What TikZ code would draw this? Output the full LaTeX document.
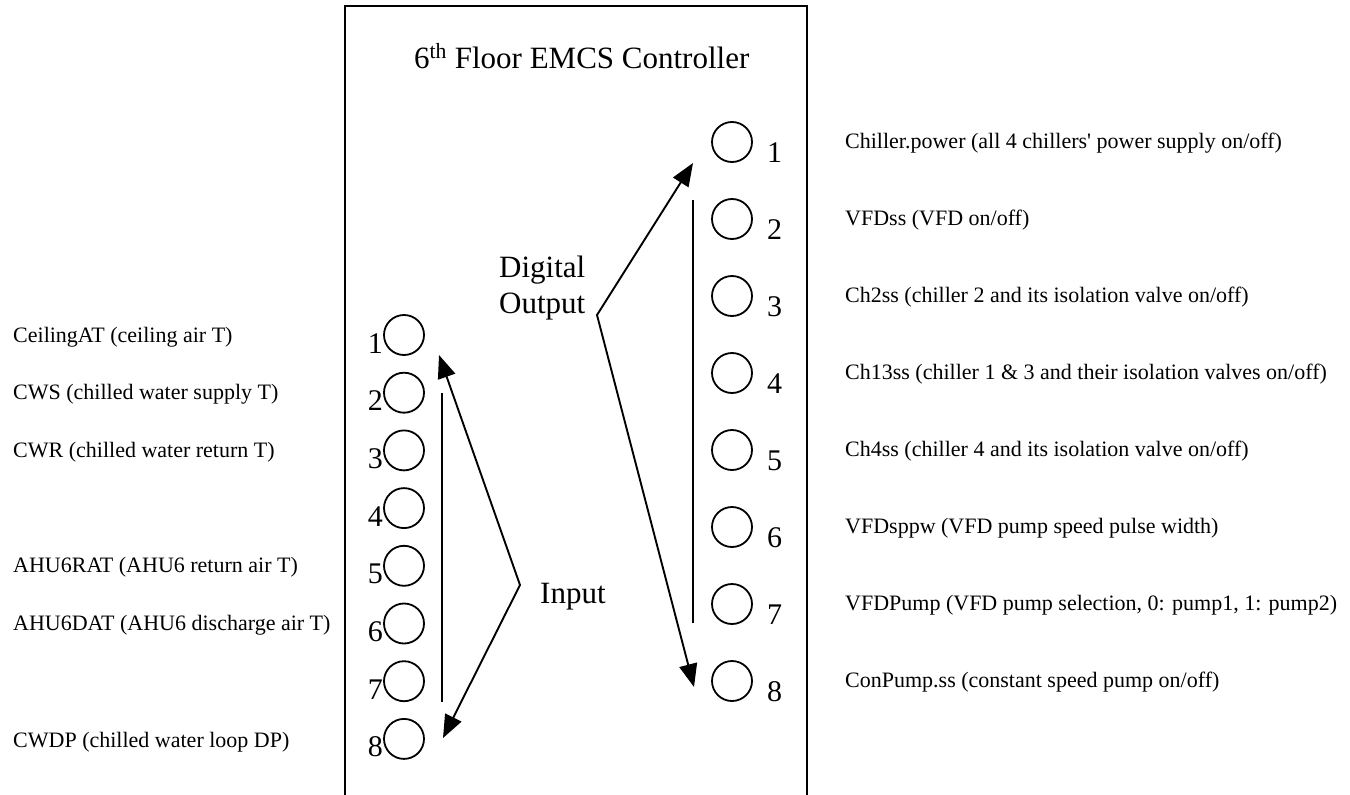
\documentclass[tikz,border=0pt]{standalone}
\usepackage{fontspec}
\setmainfont{Liberation Serif}
\usetikzlibrary{arrows.meta}
\begin{document}
\begin{tikzpicture}[x=1pt,y=-1pt,
  wire/.style={line width=1.9pt},
  port/.style={draw,circle,line width=1.8pt,minimum size=40pt,inner sep=0pt},
  pin/.style={font=\fontsize{30}{30}\selectfont,inner sep=0pt},
  sig/.style={font=\fontsize{22}{24}\selectfont,inner sep=0pt,anchor=base west},
  big/.style={font=\fontsize{31}{36}\selectfont,inner sep=0pt},
  pointer/.style={line width=1.9pt,line cap=round,-{Triangle[length=23pt,width=18pt]}}]

\useasboundingbox (0,0) rectangle (1350,795);

% controller housing, open at the bottom
\draw[wire] (345,795) -- (345,6) -- (807,6) -- (807,795);
\node[big,anchor=base west] (title) at (414,68) {6\textsuperscript{th} Floor EMCS Controller};

% input terminals (left column)
\foreach \i in {1,...,8}{
  \pgfmathsetmacro{\cy}{335+57.7*(\i-1)}
  \node[port] (in\i) at (404,\cy) {};
  \node[pin,anchor=base east] (inn\i) at (383,\cy+18) {\i};
}

% output terminals (right column)
\foreach \i in {1,...,8}{
  \pgfmathsetmacro{\cy}{142+77*(\i-1)}
  \node[port] (out\i) at (732,\cy) {};
  \node[pin,anchor=base west] (outn\i) at (767,\cy+20) {\i};
}

% input signal names
\node[sig] (s1) at (13,{335+7}) {CeilingAT (ceiling air T)};
\node[sig] (s2) at (13,{392.7+7}) {CWS (chilled water supply T)};
\node[sig] (s3) at (13,{450.4+7}) {CWR (chilled water return T)};
\node[sig] (s5) at (13,{565.8+7}) {AHU6RAT (AHU6 return air T)};
\node[sig] (s6) at (13,{623.5+7}) {AHU6DAT (AHU6 discharge air T)};
\node[sig] (s8) at (13,{738.9+9}) {CWDP (chilled water loop DP)};

% output signal names
\node[sig] (o1) at (845,{142+6}) {Chiller.power (all 4 chillers\textquotesingle\ power supply on/off)};
\node[sig] (o2) at (845,{219+6}) {VFDss (VFD on/off)};
\node[sig] (o3) at (845,{296+6}) {Ch2ss (chiller 2 and its isolation valve on/off)};
\node[sig] (o4) at (845,{373+6}) {Ch13ss (chiller 1 \& 3 and their isolation valves on/off)};
\node[sig] (o5) at (845,{450+6}) {Ch4ss (chiller 4 and its isolation valve on/off)};
\node[sig] (o6) at (845,{527+6}) {VFDsppw (VFD pump speed pulse width)};
\node[sig] (o7) at (845,{604+6}) {VFDPump (VFD pump selection, 0: pump1, 1: pump2)};
\node[sig] (o8) at (845,{681+6}) {ConPump.ss (constant speed pump on/off)};

% group labels
\node[big,anchor=south west,align=left] (dout) at (499,320) {Digital\\Output};
\node[big,anchor=base west] (inp) at (540,603) {Input};

% range brackets
\coordinate (inTop) at (442,393);
\coordinate (inBot) at (442,702);
\draw[wire] (inTop) -- (inBot);
\coordinate (outTop) at (693,200);
\coordinate (outBot) at (693,623);
\draw[wire] (outTop) -- (outBot);

% input range arrows
\coordinate (inApex) at (520,585);
\coordinate (inUp) at (439,355);
\coordinate (inDown) at (443,738);
\draw[pointer] (inApex) -- (inUp);
\draw[pointer] (inApex) -- (inDown);

% output range arrows
\coordinate (outApex) at (597,315);
\coordinate (outUp) at (693,163);
\coordinate (outDown) at (694,687);
\draw[pointer] (outApex) -- (outUp);
\draw[pointer] (outApex) -- (outDown);
\end{tikzpicture}
\end{document}
